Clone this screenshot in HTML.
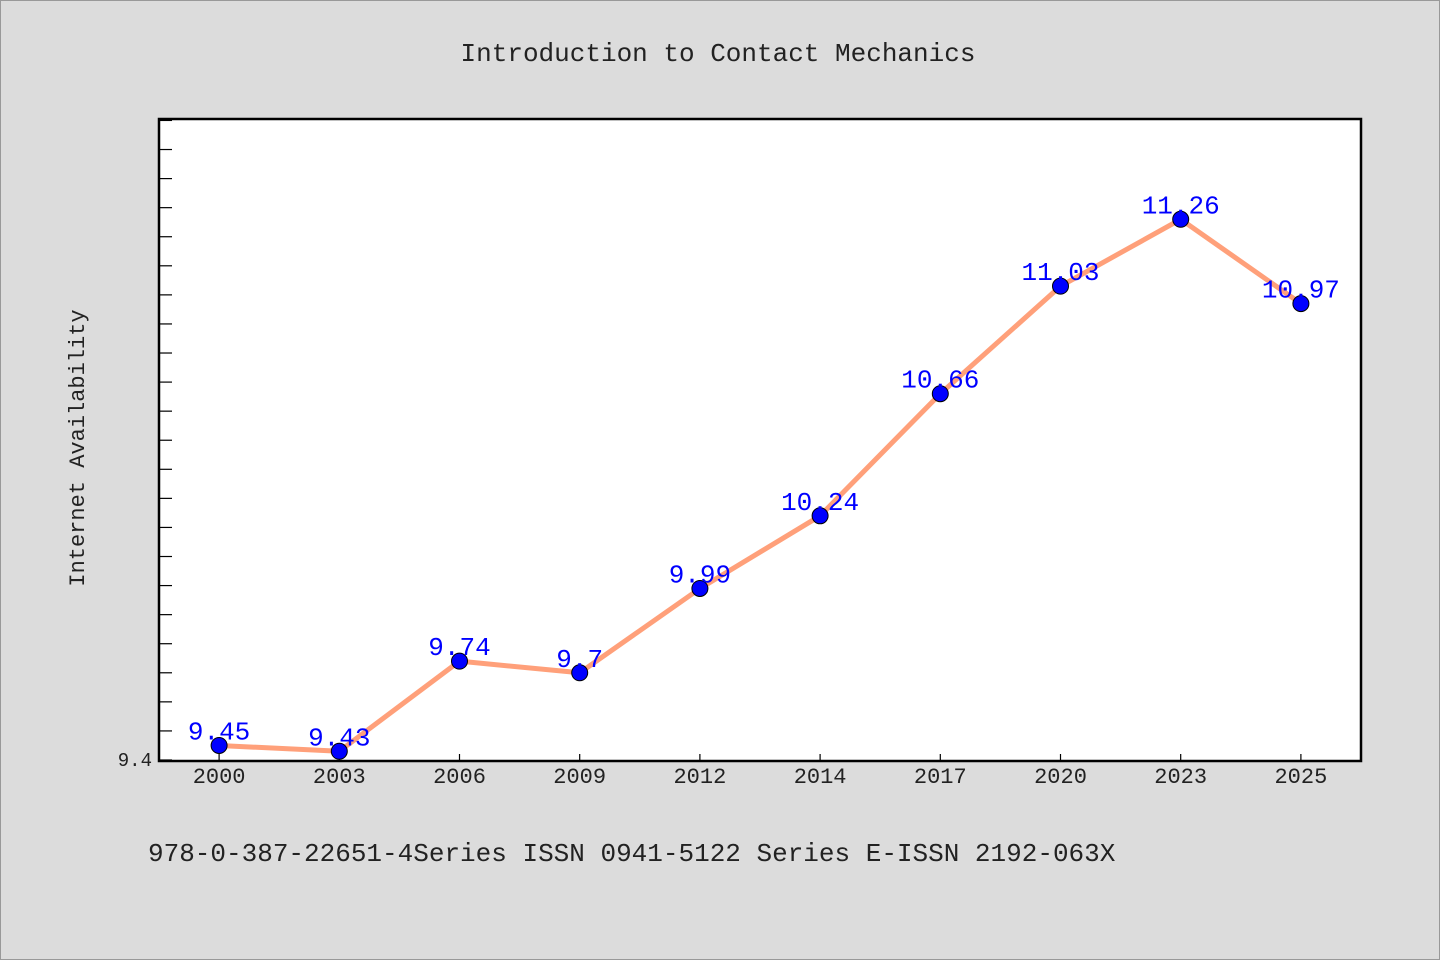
<!DOCTYPE html>
<html><head><meta charset="utf-8"><style>
body{margin:0;background:#dcdcdc}
svg{display:block;font-family:"WenQuanYi Zen Hei Mono","Liberation Mono",monospace}
</style></head><body>
<svg id="chart" width="1440" height="960">
<rect x="0.5" y="0.5" width="1439" height="959" fill="#dcdcdc" stroke="#999"/>
<text x="718" y="61" text-anchor="middle" font-size="26" fill="#222">Introduction to Contact Mechanics</text>
<rect x="159" y="119" width="1202" height="642" fill="#fff" stroke="#000" stroke-width="2.5"/>
<text transform="translate(84,448) rotate(-90)" text-anchor="middle" font-size="22" fill="#222">Internet Availability</text>
<text x="148" y="861" font-size="26" fill="#222">978-0-387-22651-4Series ISSN 0941-5122 Series E-ISSN 2192-063X</text>
<g id="yticks"></g><g id="xticks"></g><g id="series"></g>
</svg>
<script>
const categories=["2000","2003","2006","2009","2012","2014","2017","2020","2023","2025"];
const values=[9.45,9.43,9.74,9.7,9.99,10.24,10.66,11.03,11.26,10.97];
const yTickLabels=["9.4"];
const NS="http://www.w3.org/2000/svg";
const L=159,R=1361,T=119,B=760,ymin=9.4,ymax=11.605;
const y=v=>B-(v-ymin)/(ymax-ymin)*(B-T);
const bw=(R-L)/categories.length;
const x=i=>L+bw*(i+0.5);
function mk(t,a,p){const e=document.createElementNS(NS,t);for(const k in a)e.setAttribute(k,a[k]);p.appendChild(e);return e;}
const yt=document.getElementById('yticks');
for(let v=9.4;v<ymax;v+=0.1){
 const l=mk('line',{x1:L,x2:L+13,y1:y(v),y2:y(v),stroke:'#000','stroke-width':1.2},yt);
 
 
}
yTickLabels.forEach(s=>{
 const t=mk('text',{x:152,y:y(+s)+6,'text-anchor':'end','font-size':19,fill:'#222'},yt);t.textContent=s;
 
 
});
const xt=document.getElementById('xticks');
categories.forEach((c,i)=>{
 const l=mk('line',{x1:x(i),x2:x(i),y1:B-6,y2:B,stroke:'#000','stroke-width':1.2},xt);
 
 
 const t=mk('text',{x:x(i),y:783,'text-anchor':'middle','font-size':22,fill:'#222'},xt);t.textContent=c;
 
 
});
const s=document.getElementById('series');
const pl=mk('polyline',{points:values.map((v,i)=>x(i)+','+y(v)).join(' '),fill:'none',stroke:'#ffa07a','stroke-width':5,'stroke-linejoin':'round'},s);


values.forEach((v,i)=>{
 const c=mk('circle',{cx:x(i),cy:y(v),r:8,fill:'#0000ff',stroke:'#000','stroke-width':1},s);
 
 
 const t=mk('text',{x:x(i),y:y(v)-6,'text-anchor':'middle','font-size':26,fill:'#0000ff'},s);t.textContent=String(v);
 
 
});
</script>
</body></html>
